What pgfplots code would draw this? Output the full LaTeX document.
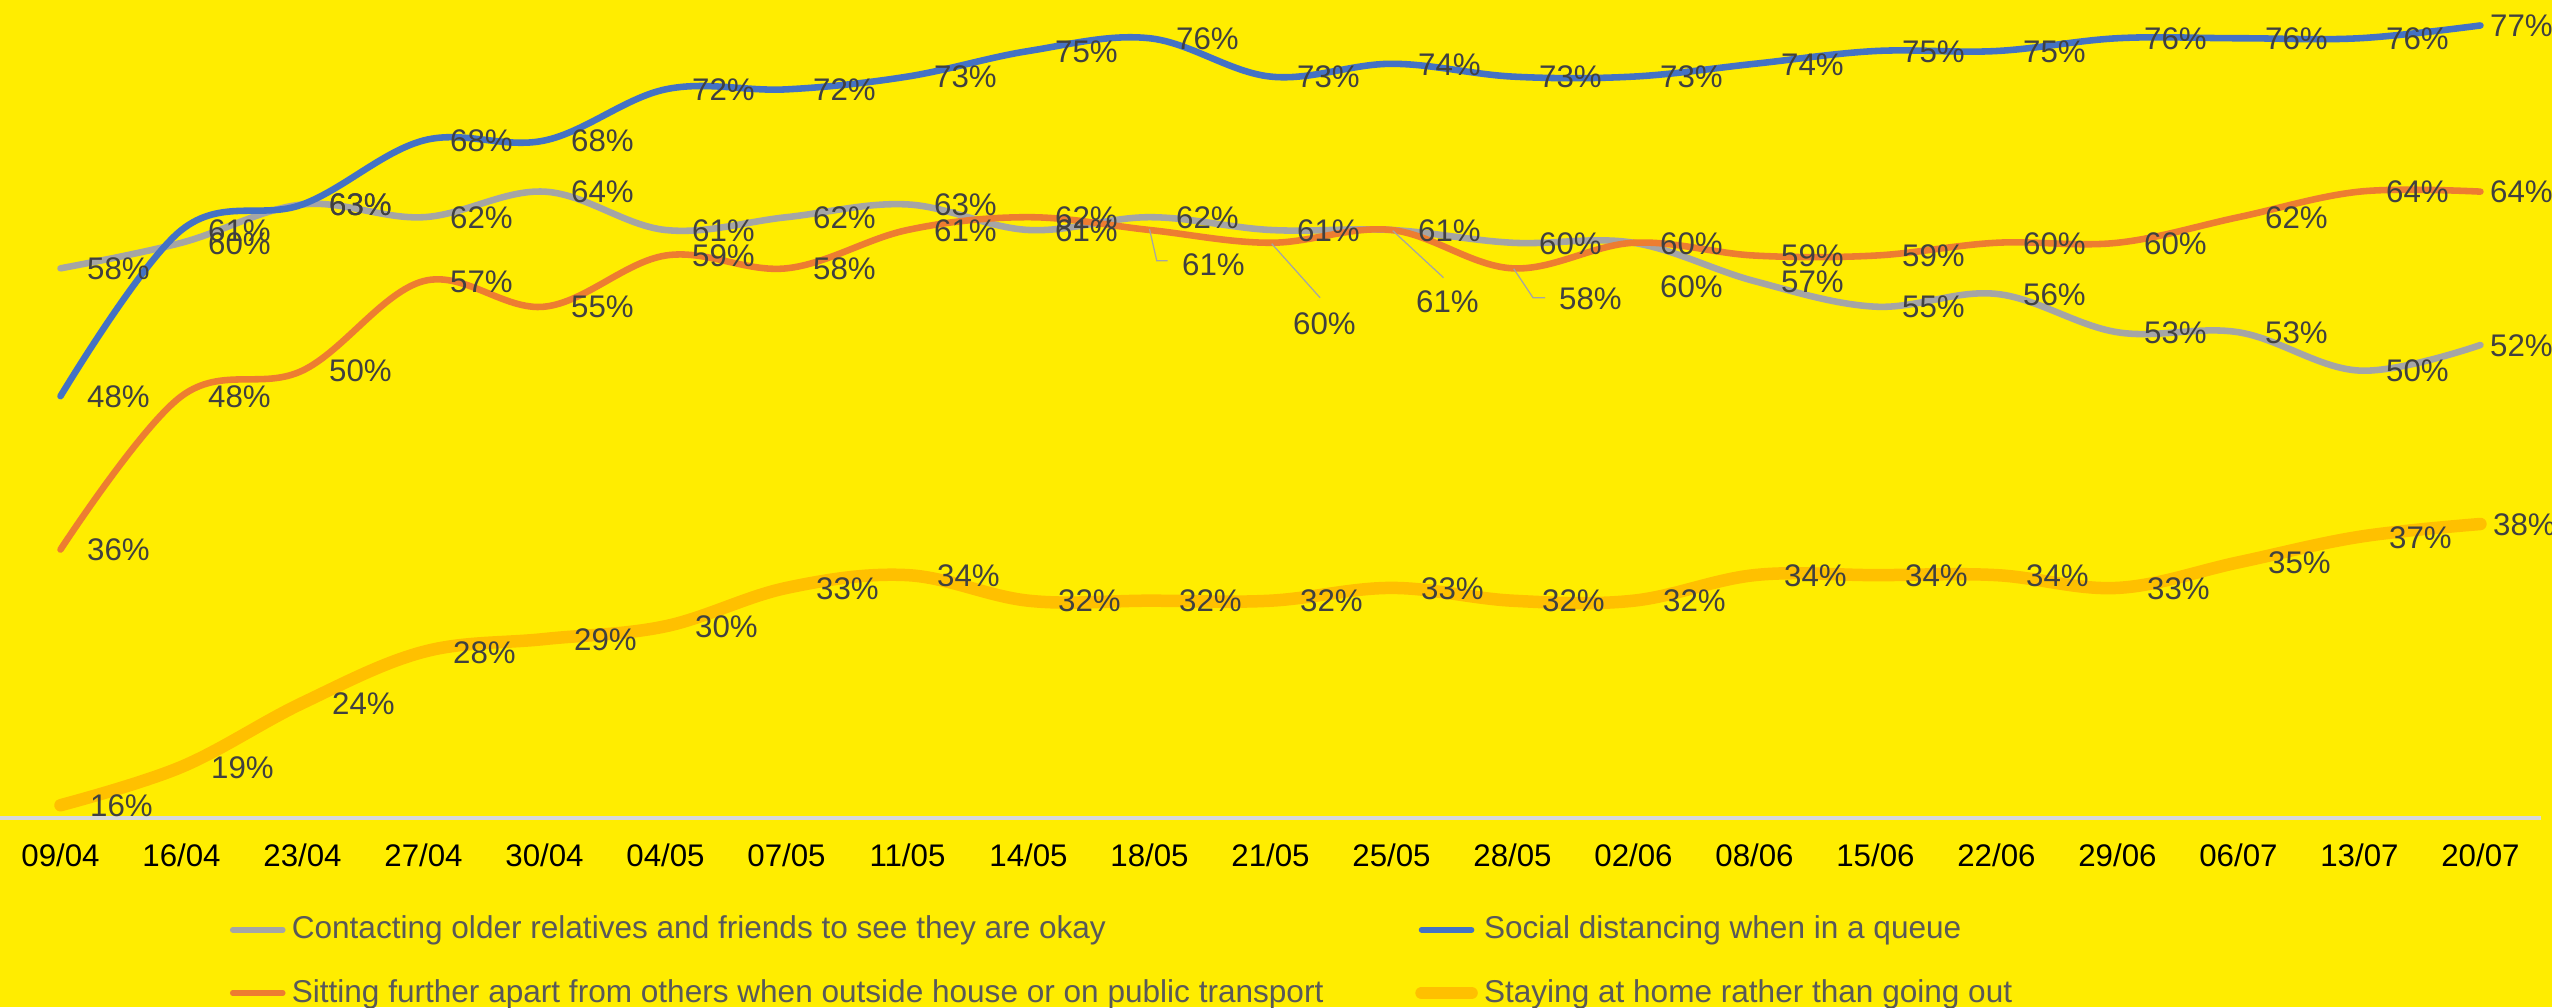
\documentclass[border=0pt]{standalone}
\usepackage{fontspec}
\setmainfont{Liberation Sans}
\usepackage{pgfplots}
\usepackage{pgfplotstable}
\pgfplotsset{compat=1.18}
\definecolor{bg}{HTML}{FFED00}
\definecolor{cgrey}{HTML}{A5A5A5}
\definecolor{cblue}{HTML}{4472C4}
\definecolor{corange}{HTML}{ED7D31}
\definecolor{cgold}{HTML}{FFC000}
\definecolor{labc}{HTML}{404040}
\definecolor{legc}{HTML}{595959}
\definecolor{axc}{HTML}{D9D9D9}

% columns: x index, value, label shift down (px), label shift right (px)
\pgfplotstableread{
x y dy dx
0 58 0 0
1 60 0 0
2 63 0 0
3 62 0 0
4 64 0 0
5 61 0 0
6 62 0 0
7 63 0 0
8 61 0 0
9 62 0 0
10 61 0 0
11 61 0 0
12 60 0 0
13 60 43 0
14 57 0 0
15 55 0 0
16 56 0 0
17 53 0 0
18 53 0 0
19 50 0 0
20 52 0 -17
}\greytab
\pgfplotstableread{
x y dy dx
0 48 0 0
1 61 0 0
2 63 0 0
3 68 0 0
4 68 0 0
5 72 0 0
6 72 0 0
7 73 0 0
8 75 0 0
9 76 0 0
10 73 0 0
11 74 0 0
12 73 0 0
13 73 0 0
14 74 0 0
15 75 0 0
16 75 0 0
17 76 0 0
18 76 0 0
19 76 0 0
20 77 0 -17
}\bluetab
\pgfplotstableread{
x y dy dx
0 36 0 0
1 48 0 0
2 50 0 0
3 57 0 0
4 55 0 0
5 59 0 0
6 58 0 0
7 61 0 0
8 62 0 0
9 61 34 6
10 60 80 -4
11 61 71 -2
12 58 30 20
13 60 0 0
14 59 0 0
15 59 0 0
16 60 0 0
17 60 0 0
18 62 0 0
19 64 0 0
20 64 0 -17
}\orangetab
\pgfplotstableread{
x y dy dx
0 16 0 0
1 19 0 0
2 24 0 0
3 28 0 0
4 29 0 0
5 30 0 0
6 33 0 0
7 34 0 0
8 32 0 0
9 32 0 0
10 32 0 0
11 33 0 0
12 32 0 0
13 32 0 0
14 34 0 0
15 34 0 0
16 34 0 0
17 33 0 0
18 35 0 0
19 37 0 0
20 38 0 -17
}\goldtab

% label text for point \coordindex of table #1, shifted by its dx, dy (px)
\newcommand\lab[1]{%
  \pgfplotstablegetelem{\coordindex}{dx}\of#1\let\ldx\pgfplotsretval
  \pgfplotstablegetelem{\coordindex}{dy}\of#1\let\ldy\pgfplotsretval
  \pgfplotstablegetelem{\coordindex}{y}\of#1\let\lval\pgfplotsretval
  \pgfmathsetlengthmacro\lhs{\ldx*0.32pt}%
  \pgfmathsetlengthmacro\lvs{-\ldy*0.32pt}%
  \makebox[0pt][l]{\hspace*{\lhs}\raisebox{\lvs}[0pt][0pt]{\lval\%}}}

\pgfplotsset{
  lab/.style={
    smooth, tension=0.6, line cap=round, line join=round, mark=none,
    nodes near coords={\lab{#1}},
    nodes near coords style={anchor=west, inner sep=0pt, text=labc,
       font=\fontsize{10}{12}\selectfont, text height=7.2pt, text depth=0pt,
       xshift=7pt},
  }
}

\begin{document}
\begin{tikzpicture}
\useasboundingbox (0,0) rectangle (816.64pt,322.24pt);
\fill[bg] (0,0) rectangle (816.64pt,322.24pt);
\begin{axis}[
  at={(0pt,60.48pt)}, anchor=south west,
  scale only axis,
  width=813.1pt, height=261.8pt,
  xmin=-0.5, xmax=20.5,
  ymin=15, ymax=79,
  clip=false,
  axis x line*=bottom,
  axis y line=none,
  x axis line style={axc, line width=1pt, -},
  xtick={0,...,20},
  xticklabels={09/04,16/04,23/04,27/04,30/04,04/05,07/05,11/05,14/05,18/05,21/05,25/05,28/05,02/06,08/06,15/06,22/06,29/06,06/07,13/07,20/07},
  major tick length=0pt,
  ytick=\empty,
  xticklabel style={font=\fontsize{10}{12}\selectfont, text=black, anchor=center, text height=7.2pt, text depth=0pt, yshift=-11.84pt},
  legend columns=2,
  legend style={draw=none, fill=none, inner sep=0pt, outer sep=0pt,
     at={(0.0905,-0.1753)}, anchor=west,
     font=\fontsize{10.1}{12}\selectfont, text=legc,
     row sep=7.4pt,
     cells={anchor=west},
     /tikz/every even column/.append style={column sep=27.4pt}},
  legend image code/.code={\draw[#1, line cap=round] (0pt,0pt) -- (16pt,0pt);},
]
\addplot[cgrey, line width=2.1pt, lab=\greytab, forget plot] table[x=x, y=y] {\greytab};
\addplot[cblue, line width=2.1pt, lab=\bluetab, forget plot] table[x=x, y=y] {\bluetab};
\addplot[corange, line width=2.1pt, lab=\orangetab, forget plot] table[x=x, y=y] {\orangetab};
\addplot[cgold, line width=4pt, lab=\goldtab, forget plot] table[x=x, y=y] {\goldtab};
\addlegendimage{cgrey, line width=1.8pt}
\addlegendentry{Contacting older relatives and friends to see they are okay}
\addlegendimage{cblue, line width=1.8pt}
\addlegendentry{Social distancing when in a queue}
\addlegendimage{corange, line width=1.8pt}
\addlegendentry{Sitting further apart from others when outside house or on public transport}
\addlegendimage{cgold, line width=4pt}
\addlegendentry{Staying at home rather than going out}
% leader lines of the moved labels
\draw[cgrey, line width=0.4pt] (axis cs:9.0,61.08) -- (axis cs:9.06,58.6) -- (axis cs:9.15,58.6);
\draw[cgrey, line width=0.4pt] (axis cs:10.01,59.93) -- (axis cs:10.41,55.7);
\draw[cgrey, line width=0.4pt] (axis cs:11.01,60.95) -- (axis cs:11.43,57.27);
\draw[cgrey, line width=0.4pt] (axis cs:12.01,57.97) -- (axis cs:12.17,55.7) -- (axis cs:12.27,55.7);
\end{axis}
\end{tikzpicture}
\end{document}
